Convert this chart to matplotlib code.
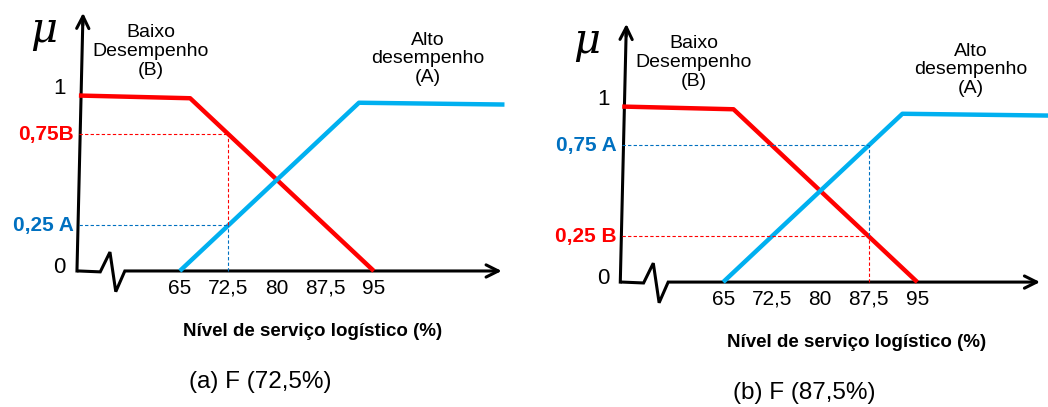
import numpy as np
import matplotlib
matplotlib.use("Agg")
import matplotlib.pyplot as plt

plt.rcParams['font.family'] = ['Liberation Sans', 'DejaVu Sans']

# membership functions (as drawn)
baixo_x = [49.4, 66.6, 95.0]
baixo_y = [0.975, 0.96, 0.0]
alto_x = [65.0, 92.7, 115.2]
alto_y = [0.0, 0.935, 0.925]

tick_values = [65, 72.5, 80, 87.5, 95]
tick_labels = ['65', '72,5', '80', '87,5', '95']

cuts = [72.5, 87.5]
cut_labels_b = ['0,75B', '0,25 B']
cut_labels_a = ['0,25 A', '0,75 A']
captions = ['(a) F (72,5%)', '(b) F (87,5%)']

RED = '#FF0000'
BLUE = '#00B0F0'
DBLUE = '#0070C0'
Y0 = 49.4


def draw_panel(ax, cut, lab_b, lab_a, caption, xlim, ylim, xend):
    ax.set_xlim(*xlim)
    ax.set_ylim(*ylim)
    ax.axis('off')

    # axes with broken x axis
    zz_x = [Y0, 52.7, 54.2, 55.1, 56.5, xend - 1.5]
    zz_y = [0.0, -0.005, 0.105, -0.115, 0.0, 0.0]
    ax.plot(zz_x, zz_y, color='black', lw=2.2, solid_joinstyle='miter')
    ax.annotate('', xy=(xend, 0.0), xytext=(xend - 2.0, 0.0),
                arrowprops=dict(arrowstyle='->', color='black', lw=2.2,
                                mutation_scale=22))
    ax.plot([Y0 - 0.3, Y0 + 0.6], [0.0, 1.38], color='black', lw=2.2)
    ax.annotate('', xy=(Y0 + 0.65, 1.45), xytext=(Y0 + 0.6, 1.35),
                arrowprops=dict(arrowstyle='->', color='black', lw=2.2,
                                mutation_scale=22))

    ax.plot(baixo_x, baixo_y, color=RED, lw=3.2, solid_capstyle='butt')
    ax.plot(alto_x, alto_y, color=BLUE, lw=3.2, solid_capstyle='butt')

    # cut values
    vb = np.interp(cut, baixo_x, baixo_y)
    va = np.interp(cut, alto_x, alto_y)
    ax.plot([Y0, cut], [vb, vb], color=RED, lw=0.8, ls=(0, (3, 2)))
    ax.plot([Y0, cut], [va, va], color=DBLUE, lw=0.8, ls=(0, (3, 2)))
    hi, lo = max(vb, va), min(vb, va)
    hi_col = RED if vb > va else DBLUE
    lo_col = DBLUE if vb > va else RED
    ax.plot([cut, cut], [lo, hi], color=hi_col, lw=0.8, ls=(0, (3, 2)))
    ax.plot([cut, cut], [0, lo], color=lo_col, lw=0.8, ls=(0, (3, 2)))

    ax.text(Y0 - 0.8, vb, lab_b, color=RED, fontsize=15, fontweight='bold',
            ha='right', va='center')
    ax.text(Y0 - 0.8, va, lab_a, color=DBLUE, fontsize=15, fontweight='bold',
            ha='right', va='center')
    ax.text(Y0 - 2.0, 1.015, '1', fontsize=16, ha='right', va='center')
    ax.text(Y0 - 2.0, 0.02, '0', fontsize=16, ha='right', va='center')
    ax.text(Y0 - 5.5, 1.34, 'μ', fontsize=30, fontstyle='italic',
            family='DejaVu Serif', ha='center', va='center')

    for v, t in zip(tick_values, tick_labels):
        ax.text(v, -0.095, t, fontsize=15, ha='center', va='center')

    ax.text(60.5, 1.22, 'Baixo\nDesempenho\n(B)', fontsize=14,
            ha='center', va='center', linespacing=1.12)
    ax.text(103.3, 1.18, 'Alto\ndesempenho\n(A)', fontsize=14,
            ha='center', va='center', linespacing=1.12)

    ax.text(85.6, -0.335, 'Nível de serviço logístico (%)', fontsize=13.5,
            fontweight='bold', ha='center', va='center')
    ax.text(77.5, -0.617, caption, fontsize=17.5, ha='center', va='center')


fig = plt.figure(figsize=(10.48, 4.07), dpi=100)
ax1 = fig.add_axes([0, 0, 520 / 1048, 1])
ax2 = fig.add_axes([520 / 1048, 0, 528 / 1048, 1])

draw_panel(ax1, cuts[0], cut_labels_b[0], cut_labels_a[0], captions[0],
           (37.2, 117.6), (-0.756, 1.506), 115.2)
draw_panel(ax2, cuts[1], cut_labels_b[1], cut_labels_a[1], captions[1],
           (33.6, 115.2), (-0.694, 1.567), 114.4)

fig.savefig('out.png', dpi=100)
